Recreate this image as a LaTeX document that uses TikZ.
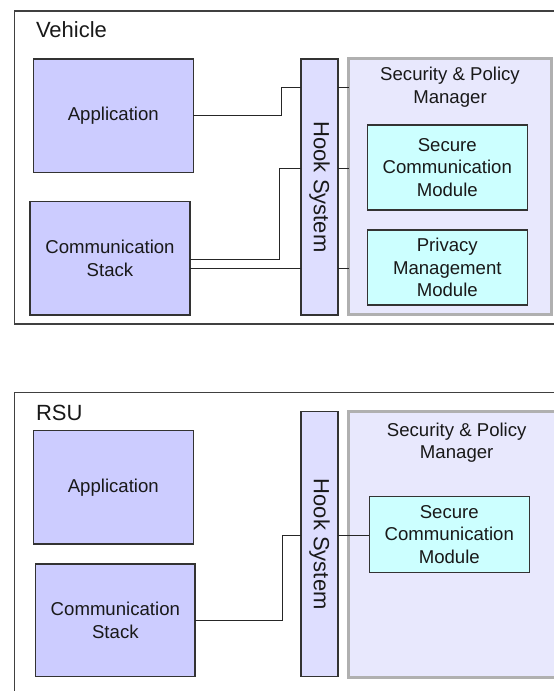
\documentclass[tikz,border=0pt]{standalone}
\usepackage{fontspec}
\setmainfont{Liberation Sans}
\begin{document}
\begin{tikzpicture}[x=1pt,y=-1pt,
  every node/.style={inner sep=0pt, outer sep=0pt, text=black!90},
  lbl/.style={font=\fontsize{18.6}{22.7}\selectfont, align=center},
  ttl/.style={font=\fontsize{22}{26}\selectfont},
  frame/.style={draw=black!75, line width=1.1pt},
  compbox/.style={draw=black!80, line width=1.1pt, fill=appfill, anchor=north west, lbl},
  hookbox/.style={draw=black!80, line width=1.1pt, fill=hookfill, anchor=north west},
  mgrbox/.style={draw=mgrline, line width=3pt, fill=mgrfill, anchor=north west},
  modbox/.style={draw=black!80, line width=1.1pt, fill=modfill, anchor=north west, lbl},
  wire/.style={draw=black!85, line width=1pt}]
\definecolor{appfill}{HTML}{CCCCFF}
\definecolor{hookfill}{HTML}{DEDEFF}
\definecolor{mgrfill}{HTML}{E8E8FD}
\definecolor{mgrline}{HTML}{B0B0B0}
\definecolor{modfill}{HTML}{CCFFFF}
\useasboundingbox (0,0) rectangle (554,691);
\clip (0,0) rectangle (554,691);

% ---------------- Vehicle ----------------
\draw[frame] (14.3,11) rectangle (570,324);
\node[ttl, anchor=base west] (vehtitle) at (36,37.3) {Vehicle};

\node[compbox, minimum width=160pt, minimum height=113.3pt] (app1) at (33.3,59) {Application};
\node[compbox, minimum width=160pt, minimum height=113.3pt] (cs1) at (30,201.7) {Communication\\Stack};
\node[hookbox, minimum width=37pt, minimum height=256pt] (hook1) at (301,59) {};
\node[ttl, rotate=-90] (hooktxt1) at (hook1.center) {Hook System};
\node[mgrbox, minimum width=203pt, minimum height=256pt] (spm1) at (348.5,58.5) {};
\node[lbl] (spmtxt1) at (450,87.2) {Security \& Policy\\Manager};
\node[modbox, minimum width=160pt, minimum height=85pt] (scm1) at (367.3,125) {Secure\\Communication\\Module};
\node[modbox, minimum width=160pt, minimum height=75pt] (pmm1) at (367.3,230) {Privacy\\Management\\Module};

% connectors into the hook system
\draw[wire] (app1.east) -| (281,87.3) -- (hook1.west |- 0,87.3);
\draw[wire] (cs1.east |- 0,259) -| (279,168) -- (hook1.west |- 0,168);
\draw[wire] (cs1.east |- 0,268) -- (hook1.west |- 0,268);
% stubs from the hook system to the manager
\draw[wire] (hook1.east |- 0,87.3) -- (spm1.west |- 0,87.3);
\draw[wire] (hook1.east |- 0,168) -- (spm1.west |- 0,168);
\draw[wire] (hook1.east |- 0,268) -- (spm1.west |- 0,268);

% ---------------- RSU ----------------
\draw[frame] (14.3,392.3) rectangle (570,705);
\node[ttl, anchor=base west] (rsutitle) at (36,420.7) {RSU};

\node[compbox, minimum width=160pt, minimum height=113.3pt] (app2) at (33.3,430.7) {Application};
\node[compbox, minimum width=159.3pt, minimum height=112.7pt] (cs2) at (35.7,564) {Communication\\Stack};
\node[hookbox, minimum width=37pt, minimum height=265pt] (hook2) at (301,411.7) {};
\node[ttl, rotate=-90] (hooktxt2) at (hook2.center) {Hook System};
\node[mgrbox, minimum width=217pt, minimum height=266pt] (spm2) at (348.5,411) {};
\node[lbl] (spmtxt2) at (456.7,442.6) {Security \& Policy\\Manager};
\node[modbox, minimum width=160pt, minimum height=75.6pt] (scm2) at (369.3,496.7) {Secure\\Communication\\Module};

\draw[wire] (cs2.east) -| (282.7,535) -- (hook2.west |- 0,535);
\draw[wire] (hook2.east |- 0,535) -- (scm2.west |- 0,535);
\end{tikzpicture}
\end{document}
